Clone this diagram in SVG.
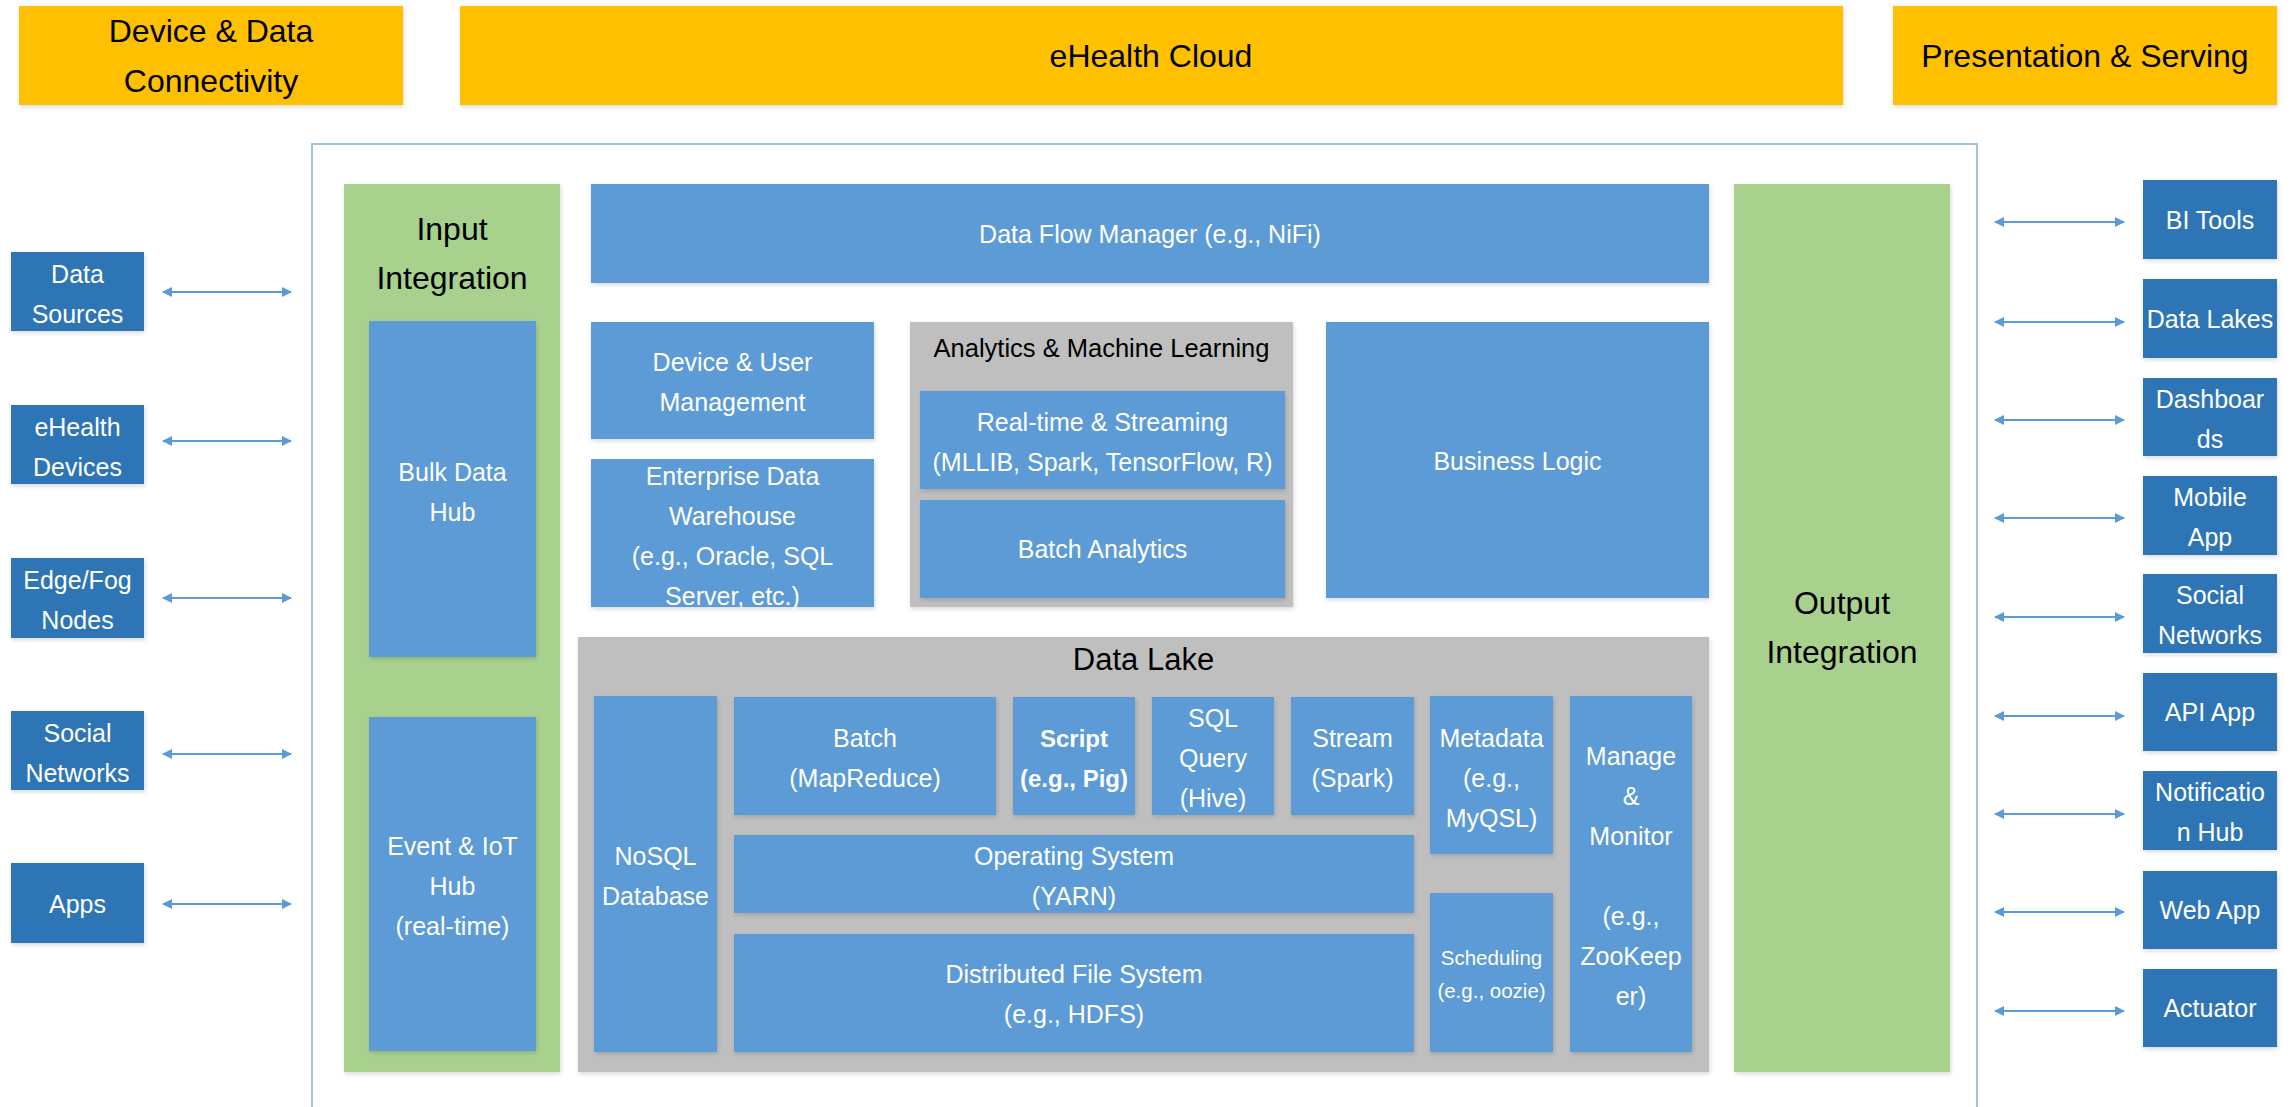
<svg xmlns="http://www.w3.org/2000/svg" width="2292" height="1107" viewBox="0 0 2292 1107">
<style>
text{font-family:"Liberation Sans",Arial,sans-serif;text-anchor:middle}
.hdr{fill:#FFC000}
.ht{font-size:32px;fill:#000}
.ext{fill:#2E75B6}
.in{fill:#5B9BD5}
.gry{fill:#BFBFBF}
.grn{fill:#A9D18E}
.wt{font-size:25px;fill:#fff}
.bk{font-size:25.5px;fill:#000}
.sm{font-size:20.5px;fill:#fff}
.b{font-weight:bold}
.conn line{stroke:#5B9BD5;stroke-width:2;marker-start:url(#ah);marker-end:url(#ah)}
.sh{filter:url(#sd)}
</style>
<defs>
<marker id="ah" viewBox="0 0 10 10" refX="9" refY="5" markerWidth="5" markerHeight="5" orient="auto-start-reverse" markerUnits="strokeWidth">
<path d="M0,0 L10,5 L0,10 z" fill="#5B9BD5"/>
</marker>
<filter id="sd" x="-5%" y="-5%" width="110%" height="115%">
<feDropShadow dx="1" dy="2" stdDeviation="2" flood-color="#000" flood-opacity="0.15"/>
</filter>
</defs>
<rect width="2292" height="1107" fill="#fff"/>

<g id="hdr-device">
<rect class="hdr sh" x="19" y="6" width="384" height="99"/>
<text class="ht" x="211" y="42">Device &amp; Data</text>
<text class="ht" x="211" y="92">Connectivity</text>
</g>
<g id="hdr-cloud">
<rect class="hdr sh" x="460" y="6" width="1383" height="99"/>
<text class="ht" x="1151" y="67">eHealth Cloud</text>
</g>
<g id="hdr-present">
<rect class="hdr sh" x="1893" y="6" width="384" height="99"/>
<text class="ht" x="2085" y="67">Presentation &amp; Serving</text>
</g>

<g id="cloud-frame">
<path d="M312,1112 V144 H1977 V1112" fill="none" stroke="#9DC3E6" stroke-width="2"/>
</g>

<g id="input-integration">
<rect class="grn sh" x="344" y="184" width="216" height="888"/>
<text class="ht" x="452" y="240">Input</text>
<text class="ht" x="452" y="289">Integration</text>
</g>
<g id="bulk-data-hub">
<rect class="in sh" x="369" y="321" width="167" height="336"/>
<text class="wt" x="452.5" y="481">Bulk Data</text>
<text class="wt" x="452.5" y="521">Hub</text>
</g>
<g id="event-iot-hub">
<rect class="in sh" x="369" y="717" width="167" height="334"/>
<text class="wt" x="452.5" y="855">Event &amp; IoT</text>
<text class="wt" x="452.5" y="895">Hub</text>
<text class="wt" x="452.5" y="935">(real-time)</text>
</g>

<g id="data-flow-manager">
<rect class="in sh" x="591" y="184" width="1118" height="99"/>
<text class="wt" x="1150" y="243">Data Flow Manager (e.g., NiFi)</text>
</g>
<g id="device-user-mgmt">
<rect class="in sh" x="591" y="322" width="283" height="117"/>
<text class="wt" x="732.5" y="371">Device &amp; User</text>
<text class="wt" x="732.5" y="411">Management</text>
</g>
<g id="enterprise-dw">
<rect class="in sh" x="591" y="459" width="283" height="148"/>
<text class="wt" x="732.5" y="485">Enterprise Data</text>
<text class="wt" x="732.5" y="525">Warehouse</text>
<text class="wt" x="732.5" y="565">(e.g., Oracle, SQL</text>
<text class="wt" x="732.5" y="605">Server, etc.)</text>
</g>
<g id="analytics-ml">
<rect class="gry sh" x="910" y="322" width="383" height="285"/>
<text class="bk" x="1101.5" y="357">Analytics &amp; Machine Learning</text>
</g>
<g id="realtime-streaming">
<rect class="in sh" x="920" y="391" width="365" height="98"/>
<text class="wt" x="1102.5" y="431">Real-time &amp; Streaming</text>
<text class="wt" x="1102.5" y="471">(MLLIB, Spark, TensorFlow, R)</text>
</g>
<g id="batch-analytics">
<rect class="in sh" x="920" y="500" width="365" height="98"/>
<text class="wt" x="1102.5" y="558">Batch Analytics</text>
</g>
<g id="business-logic">
<rect class="in sh" x="1326" y="322" width="383" height="276"/>
<text class="wt" x="1517.5" y="470">Business Logic</text>
</g>

<g id="data-lake">
<rect class="gry sh" x="578" y="637" width="1131" height="435"/>
<text class="bk" style="font-size:31px" x="1143.5" y="670">Data Lake</text>
</g>
<g id="nosql-db">
<rect class="in sh" x="594" y="696" width="123" height="356"/>
<text class="wt" x="655.5" y="865">NoSQL</text>
<text class="wt" x="655.5" y="905">Database</text>
</g>
<g id="batch-mapreduce">
<rect class="in sh" x="734" y="697" width="262" height="118"/>
<text class="wt" x="865" y="747">Batch</text>
<text class="wt" x="865" y="787">(MapReduce)</text>
</g>
<g id="script-pig">
<rect class="in sh" x="1013" y="697" width="122" height="118"/>
<text class="wt b" style="font-size:24px" x="1074" y="747">Script</text>
<text class="wt b" style="font-size:24px" x="1074" y="787">(e.g., Pig)</text>
</g>
<g id="sql-hive">
<rect class="in sh" x="1152" y="697" width="122" height="118"/>
<text class="wt" x="1213" y="727">SQL</text>
<text class="wt" x="1213" y="767">Query</text>
<text class="wt" x="1213" y="807">(Hive)</text>
</g>
<g id="stream-spark">
<rect class="in sh" x="1291" y="697" width="123" height="118"/>
<text class="wt" x="1352.5" y="747">Stream</text>
<text class="wt" x="1352.5" y="787">(Spark)</text>
</g>
<g id="operating-system">
<rect class="in sh" x="734" y="835" width="680" height="78"/>
<text class="wt" x="1074" y="865">Operating System</text>
<text class="wt" x="1074" y="905">(YARN)</text>
</g>
<g id="dfs">
<rect class="in sh" x="734" y="934" width="680" height="118"/>
<text class="wt" x="1074" y="983">Distributed File System</text>
<text class="wt" x="1074" y="1023">(e.g., HDFS)</text>
</g>
<g id="metadata">
<rect class="in sh" x="1430" y="696" width="123" height="158"/>
<text class="wt" x="1491.5" y="747">Metadata</text>
<text class="wt" x="1491.5" y="787">(e.g.,</text>
<text class="wt" x="1491.5" y="827">MyQSL)</text>
</g>
<g id="scheduling">
<rect class="in sh" x="1430" y="893" width="123" height="159"/>
<text class="sm" x="1491.5" y="965">Scheduling</text>
<text class="sm" x="1491.5" y="998">(e.g., oozie)</text>
</g>
<g id="manage-monitor">
<rect class="in sh" x="1570" y="696" width="122" height="356"/>
<text class="wt" x="1631" y="765">Manage</text>
<text class="wt" x="1631" y="805">&amp;</text>
<text class="wt" x="1631" y="845">Monitor</text>
<text class="wt" x="1631" y="925">(e.g.,</text>
<text class="wt" x="1631" y="965">ZooKeep</text>
<text class="wt" x="1631" y="1005">er)</text>
</g>

<g id="output-integration">
<rect class="grn sh" x="1734" y="184" width="216" height="888"/>
<text class="ht" x="1842" y="614">Output</text>
<text class="ht" x="1842" y="663">Integration</text>
</g>

<g id="src-data-sources"><rect class="ext sh" x="11" y="252" width="133" height="79"/><text class="wt" x="77.5" y="283">Data</text><text class="wt" x="77.5" y="323">Sources</text></g>
<g id="src-ehealth-devices"><rect class="ext sh" x="11" y="405" width="133" height="79"/><text class="wt" x="77.5" y="436">eHealth</text><text class="wt" x="77.5" y="476">Devices</text></g>
<g id="src-edge-fog"><rect class="ext sh" x="11" y="558" width="133" height="80"/><text class="wt" x="77.5" y="589">Edge/Fog</text><text class="wt" x="77.5" y="629">Nodes</text></g>
<g id="src-social"><rect class="ext sh" x="11" y="711" width="133" height="79"/><text class="wt" x="77.5" y="742">Social</text><text class="wt" x="77.5" y="782">Networks</text></g>
<g id="src-apps"><rect class="ext sh" x="11" y="863" width="133" height="80"/><text class="wt" x="77.5" y="913">Apps</text></g>

<g id="out-bi-tools"><rect class="ext sh" x="2143" y="180" width="134" height="79"/><text class="wt" x="2210" y="229">BI Tools</text></g>
<g id="out-data-lakes"><rect class="ext sh" x="2143" y="279" width="134" height="79"/><text class="wt" x="2210" y="328">Data Lakes</text></g>
<g id="out-dashboards"><rect class="ext sh" x="2143" y="378" width="134" height="78"/><text class="wt" x="2210" y="408">Dashboar</text><text class="wt" x="2210" y="448">ds</text></g>
<g id="out-mobile-app"><rect class="ext sh" x="2143" y="476" width="134" height="79"/><text class="wt" x="2210" y="506">Mobile</text><text class="wt" x="2210" y="546">App</text></g>
<g id="out-social"><rect class="ext sh" x="2143" y="574" width="134" height="79"/><text class="wt" x="2210" y="604">Social</text><text class="wt" x="2210" y="644">Networks</text></g>
<g id="out-api-app"><rect class="ext sh" x="2143" y="673" width="134" height="78"/><text class="wt" x="2210" y="721">API App</text></g>
<g id="out-notification-hub"><rect class="ext sh" x="2143" y="771" width="134" height="79"/><text class="wt" x="2210" y="801">Notificatio</text><text class="wt" x="2210" y="841">n Hub</text></g>
<g id="out-web-app"><rect class="ext sh" x="2143" y="871" width="134" height="78"/><text class="wt" x="2210" y="919">Web App</text></g>
<g id="out-actuator"><rect class="ext sh" x="2143" y="969" width="134" height="78"/><text class="wt" x="2210" y="1017">Actuator</text></g>

<g id="connectors" class="conn">
<line x1="163" y1="292" x2="291" y2="292"/>
<line x1="163" y1="441" x2="291" y2="441"/>
<line x1="163" y1="598" x2="291" y2="598"/>
<line x1="163" y1="754" x2="291" y2="754"/>
<line x1="163" y1="904" x2="291" y2="904"/>
<line x1="1995" y1="222" x2="2124" y2="222"/>
<line x1="1995" y1="322" x2="2124" y2="322"/>
<line x1="1995" y1="420" x2="2124" y2="420"/>
<line x1="1995" y1="518" x2="2124" y2="518"/>
<line x1="1995" y1="617" x2="2124" y2="617"/>
<line x1="1995" y1="716" x2="2124" y2="716"/>
<line x1="1995" y1="814" x2="2124" y2="814"/>
<line x1="1995" y1="912" x2="2124" y2="912"/>
<line x1="1995" y1="1011" x2="2124" y2="1011"/>
</g>
</svg>
